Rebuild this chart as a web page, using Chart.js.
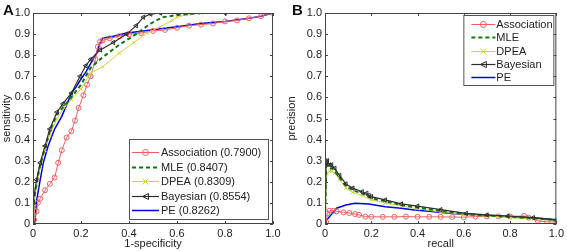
<!DOCTYPE html>
<html>
<head>
<meta charset="utf-8">
<script src="https://cdn.jsdelivr.net/npm/chart.js@4.4.1/dist/chart.umd.min.js"></script>
<style>
  body { margin: 0; background: #fff; width: 567px; height: 251px; position: relative; overflow: hidden; }
  canvas { position: absolute; top: 0; }
  .panel { position: absolute; top: 1px; font: bold 15px "Liberation Sans", Arial, sans-serif; color: #111; }
</style>
</head>
<body>
<canvas id="rocChart" width="285" height="251" style="left:0"></canvas>
<canvas id="prChart" width="282" height="251" style="left:285px"></canvas>
<div class="panel" style="left:3px">A</div>
<div class="panel" style="left:292px">B</div>
<script>
// series names and AUCs from the legends
const methods = ['Association', 'MLE', 'DPEA', 'Bayesian', 'PE'];
const aucs = ['0.7900', '0.8407', '0.8309', '0.8554', '0.8262'];

// axis ticks
const rocXTicks = [0, 0.2, 0.4, 0.6, 0.8, 1];
const rocYTicks = [0, 0.1, 0.2, 0.3, 0.4, 0.5, 0.6, 0.7, 0.8, 0.9, 1];
const prXTicks = [0, 0.2, 0.4, 0.6, 0.8, 1];
const prYTicks = [0, 0.1, 0.2, 0.3, 0.4, 0.5, 0.6, 0.7, 0.8, 0.9, 1];

// panel A: [1-specificity, sensitivity]
const rocAssociation = [[0,0],[0.005,0.02],[0.015,0.06],[0.02,0.1],[0.03,0.12],[0.05,0.16],[0.07,0.19],[0.09,0.22],[0.105,0.29],[0.12,0.35],[0.14,0.41],[0.16,0.44],[0.175,0.49],[0.19,0.55],[0.21,0.61],[0.225,0.66],[0.24,0.7],[0.26,0.78],[0.27,0.84],[0.28,0.865],[0.29,0.87],[0.32,0.88],[0.36,0.89],[0.4,0.9],[0.45,0.905],[0.5,0.915],[0.55,0.92],[0.6,0.93],[0.65,0.94],[0.7,0.945],[0.75,0.95],[0.8,0.96],[0.85,0.965],[0.9,0.975],[0.95,0.985],[1,1]];
const rocMLE = [[0,0],[0.002,0.09],[0.015,0.2],[0.03,0.28],[0.05,0.36],[0.07,0.44],[0.1,0.52],[0.13,0.56],[0.16,0.6],[0.2,0.66],[0.24,0.74],[0.29,0.79],[0.36,0.85],[0.43,0.9],[0.49,0.95],[0.54,0.98],[0.6,0.99],[0.7,1],[1,1]];
const rocDPEA = [[0,0],[0.003,0.08],[0.015,0.18],[0.03,0.27],[0.05,0.35],[0.07,0.42],[0.1,0.5],[0.13,0.55],[0.16,0.59],[0.2,0.64],[0.24,0.715],[0.29,0.745],[0.36,0.81],[0.42,0.86],[0.475,0.905],[0.53,0.935],[0.58,0.965],[0.6,0.98],[0.65,0.995],[0.7,1],[1,1]];
const rocBayesian = [[0,0],[0,0.1],[0.015,0.21],[0.03,0.29],[0.05,0.37],[0.07,0.45],[0.1,0.53],[0.125,0.57],[0.16,0.62],[0.196,0.7],[0.22,0.75],[0.24,0.78],[0.28,0.825],[0.335,0.86],[0.39,0.9],[0.43,0.94],[0.46,0.98],[0.49,0.995],[0.53,1],[0.6,1],[0.8,1],[1,1]];
const rocPE = [[0,0],[0.008,0.01],[0.015,0.11],[0.03,0.21],[0.043,0.29],[0.063,0.37],[0.09,0.45],[0.12,0.51],[0.146,0.58],[0.16,0.62],[0.18,0.65],[0.196,0.68],[0.22,0.72],[0.24,0.76],[0.265,0.81],[0.28,0.86],[0.29,0.88],[0.31,0.885],[0.335,0.89],[0.39,0.905],[0.46,0.915],[0.53,0.925],[0.6,0.935],[0.7,0.95],[0.8,0.96],[0.9,0.975],[0.95,0.985],[1,1]];

// panel B: [recall, precision]
const prAssociation = [[0,0],[0.005,0.01],[0.01,0.05],[0.02,0.063],[0.035,0.062],[0.05,0.06],[0.08,0.055],[0.105,0.052],[0.13,0.047],[0.147,0.043],[0.175,0.035],[0.2,0.034],[0.25,0.034],[0.3,0.034],[0.35,0.035],[0.4,0.034],[0.45,0.034],[0.5,0.034],[0.55,0.033],[0.6,0.032],[0.65,0.035],[0.7,0.036],[0.75,0.036],[0.8,0.036],[0.86,0.038],[0.88,0.03],[0.92,0.015],[0.96,0.01],[1,0.01]];
const prMLE = [[0,0],[0.005,0.31],[0.01,0.28],[0.02,0.26],[0.03,0.265],[0.042,0.25],[0.063,0.22],[0.09,0.18],[0.12,0.16],[0.16,0.145],[0.2,0.122],[0.26,0.108],[0.33,0.09],[0.4,0.078],[0.5,0.062],[0.61,0.047],[0.7,0.04],[0.8,0.034],[0.9,0.027],[1,0.02]];
const prDPEA = [[0,0],[0.008,0.24],[0.02,0.25],[0.03,0.25],[0.042,0.24],[0.063,0.21],[0.09,0.17],[0.12,0.15],[0.16,0.135],[0.2,0.115],[0.26,0.1],[0.33,0.085],[0.4,0.072],[0.5,0.057],[0.61,0.044],[0.7,0.037],[0.8,0.03],[0.9,0.024],[1,0.015]];
const prBayesian = [[0,0],[0.005,0.29],[0.01,0.3],[0.02,0.28],[0.028,0.28],[0.042,0.264],[0.063,0.23],[0.09,0.19],[0.12,0.17],[0.16,0.153],[0.18,0.146],[0.19,0.135],[0.2,0.13],[0.26,0.114],[0.33,0.095],[0.4,0.085],[0.5,0.068],[0.61,0.05],[0.7,0.043],[0.79,0.038],[0.9,0.03],[1,0.018]];
const prPE = [[0,0.01],[0.02,0.035],[0.05,0.075],[0.09,0.09],[0.13,0.098],[0.19,0.095],[0.26,0.082],[0.33,0.075],[0.385,0.066],[0.45,0.06],[0.55,0.05],[0.65,0.043],[0.75,0.038],[0.85,0.033],[0.95,0.025],[1,0.02]];

const FONT = '"Liberation Sans", Arial, sans-serif';
const TEXT = '#222';

// line / marker look per method (matlab-ish)
const styles = [
  { color: '#f06060', width: 1, dash: [], marker: 'circle', radius: 2.5, rot: 0, fill: 'rgba(0,0,0,0)' },
  { color: '#0b7a0b', width: 2, dash: [4, 3], marker: false, radius: 0, rot: 0, fill: '#0b7a0b' },
  { color: '#d2d248', width: 1, dash: [], marker: 'crossRot', radius: 2.5, rot: 0, fill: '#d2d248' },
  { color: '#2e2e2e', width: 1.2, dash: [], marker: 'triangle', radius: 2.5, rot: -90, fill: 'rgba(0,0,0,0)' },
  { color: '#0000ee', width: 1.5, dash: [], marker: false, radius: 0, rot: 0, fill: '#0000ee' }
];
const drawOrder = [4, 2, 3, 1, 5];

function makeDatasets(series, labels) {
  return series.map((pts, i) => {
    const s = styles[i];
    return {
      label: labels[i],
      data: pts.map(p => ({ x: p[0], y: p[1] })),
      showLine: true,
      borderColor: s.color,
      borderWidth: s.width,
      borderDash: s.dash,
      pointStyle: s.marker,
      pointRadius: s.radius,
      pointRotation: s.rot,
      pointBorderColor: s.color,
      pointBackgroundColor: s.fill,
      pointBorderWidth: 1,
      tension: 0,
      order: drawOrder[i]
    };
  });
}

// matlab style box with inward tick marks
const boxPlugin = {
  id: 'box',
  afterDatasetsDraw(chart) {
    const { ctx, chartArea: a, scales } = chart;
    ctx.save();
    ctx.strokeStyle = '#444';
    ctx.lineWidth = 1;
    ctx.strokeRect(a.left + 0.5, a.top + 0.5, a.right - a.left - 1, a.bottom - a.top - 1);
    ctx.beginPath();
    scales.x.ticks.forEach(t => {
      const px = Math.round(scales.x.getPixelForValue(t.value)) + 0.5;
      ctx.moveTo(px, a.bottom); ctx.lineTo(px, a.bottom - 3);
      ctx.moveTo(px, a.top); ctx.lineTo(px, a.top + 3);
    });
    scales.y.ticks.forEach(t => {
      const py = Math.round(scales.y.getPixelForValue(t.value)) + 0.5;
      ctx.moveTo(a.left, py); ctx.lineTo(a.left + 3, py);
      ctx.moveTo(a.right, py); ctx.lineTo(a.right - 3, py);
    });
    ctx.stroke();
    ctx.restore();
  }
};

function drawMarker(ctx, s, x, y) {
  if (!s.marker) return;
  const r = s.radius + 0.5;
  ctx.beginPath();
  ctx.setLineDash([]);
  ctx.lineWidth = 1;
  ctx.strokeStyle = s.color;
  if (s.marker === 'circle') {
    ctx.arc(x, y, r, 0, Math.PI * 2);
  } else if (s.marker === 'crossRot') {
    ctx.moveTo(x - r, y - r); ctx.lineTo(x + r, y + r);
    ctx.moveTo(x - r, y + r); ctx.lineTo(x + r, y - r);
  } else if (s.marker === 'triangle') {
    ctx.moveTo(x - r, y); ctx.lineTo(x + r, y - r); ctx.lineTo(x + r, y + r); ctx.closePath();
  }
  ctx.stroke();
}

// legend drawn inside the axes like matlab
const boxLegend = {
  id: 'boxLegend',
  afterDraw(chart, args, opts) {
    const { ctx, chartArea: a } = chart;
    const left = opts.right ? a.right - opts.right - opts.width : a.left + opts.left;
    const top = opts.bottom != null ? a.bottom - opts.bottom - opts.height : a.top + opts.top;
    ctx.save();
    ctx.fillStyle = '#fff';
    ctx.fillRect(left, top, opts.width, opts.height);
    ctx.strokeStyle = '#555';
    ctx.lineWidth = 1;
    ctx.strokeRect(left + 0.5, top + 0.5, opts.width, opts.height);
    ctx.font = '11px ' + FONT;
    ctx.textBaseline = 'middle';
    chart.data.datasets.forEach((ds, i) => {
      const s = styles[i];
      const y = Math.round(top + opts.first + i * opts.step) + 0.5;
      const x0 = left + opts.lineStart, x1 = x0 + opts.lineLen;
      ctx.beginPath();
      ctx.setLineDash(s.dash);
      ctx.strokeStyle = s.color;
      ctx.lineWidth = s.width;
      ctx.moveTo(x0, y); ctx.lineTo(x1, y);
      ctx.stroke();
      drawMarker(ctx, s, (x0 + x1) / 2, y);
      ctx.fillStyle = TEXT;
      ctx.fillText(ds.label, left + opts.textStart, y);
    });
    ctx.restore();
  }
};

function axisOpts(ticks, title, fixedSize, isX) {
  return {
    type: 'linear',
    min: 0,
    max: 1,
    afterBuildTicks: s => { s.ticks = ticks.map(v => ({ value: v })); },
    afterFit: s => { if (isX) s.height = fixedSize; else s.width = fixedSize; },
    grid: { display: false, drawTicks: false },
    border: { display: false },
    ticks: { color: TEXT, font: { family: FONT, size: 11 }, padding: 3, maxRotation: 0, autoSkip: false },
    title: { display: true, text: title, color: TEXT, font: { family: FONT, size: 11 }, padding: { top: 0, bottom: 0 } }
  };
}

new Chart(document.getElementById('rocChart'), {
  type: 'scatter',
  data: {
    datasets: makeDatasets(
      [rocAssociation, rocMLE, rocDPEA, rocBayesian, rocPE],
      methods.map((m, i) => m + ' (' + aucs[i] + ')')
    )
  },
  options: {
    responsive: false,
    animation: false,
    devicePixelRatio: 1,
    layout: { padding: { top: 13, right: 12, left: 0, bottom: 0 } },
    scales: {
      x: axisOpts(rocXTicks, '1-specificity', 27, true),
      y: axisOpts(rocYTicks, 'sensitivity', 33, false)
    },
    plugins: {
      legend: { display: false },
      tooltip: { enabled: false },
      boxLegend: { right: 5, bottom: 5, width: 139, height: 80, first: 13, step: 14.5, lineStart: 3, lineLen: 27, textStart: 32 }
    }
  },
  plugins: [boxPlugin, boxLegend]
});

new Chart(document.getElementById('prChart'), {
  type: 'scatter',
  data: {
    datasets: makeDatasets([prAssociation, prMLE, prDPEA, prBayesian, prPE], methods)
  },
  options: {
    responsive: false,
    animation: false,
    devicePixelRatio: 1,
    layout: { padding: { top: 13, right: 4, left: 0, bottom: 0 } },
    scales: {
      x: axisOpts(prXTicks, 'recall', 27, true),
      y: axisOpts(prYTicks, 'precision', 40, false)
    },
    plugins: {
      legend: { display: false },
      tooltip: { enabled: false },
      boxLegend: { right: 3, top: 2, width: 90, height: 70, first: 9, step: 13.3, lineStart: 8, lineLen: 24, textStart: 33 }
    }
  },
  plugins: [boxPlugin, boxLegend]
});
</script>
</body>
</html>
